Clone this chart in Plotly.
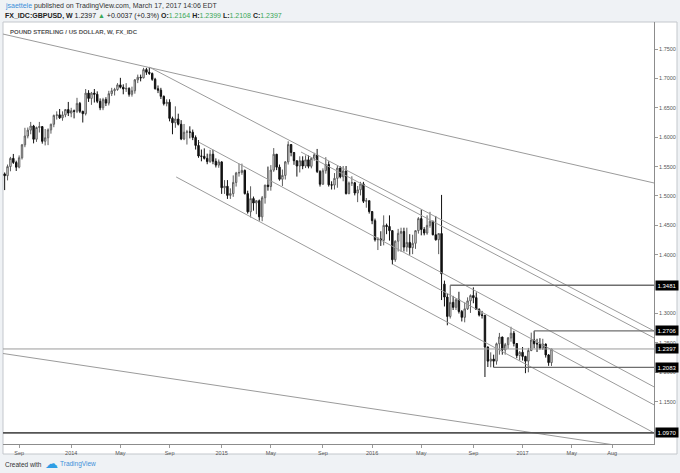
import plotly.graph_objects as go
import pandas as pd

# Weekly GBPUSD candles (open, high, low, close), weeks starting Monday 2013-07-29
ohlc_2013 = [
    (1.5375, 1.5400, 1.5100, 1.5345), (1.5345, 1.5535, 1.5265, 1.5500), (1.5500, 1.5665, 1.5420, 1.5640),
    (1.5640, 1.5715, 1.5545, 1.5570), (1.5570, 1.5600, 1.5425, 1.5490), (1.5490, 1.5690, 1.5470, 1.5650),
    (1.5650, 1.5885, 1.5620, 1.5870), (1.5870, 1.6160, 1.5830, 1.6020), (1.6020, 1.6165, 1.5980, 1.6120),
    (1.6120, 1.6260, 1.6050, 1.6190), (1.6190, 1.6210, 1.5895, 1.5965), (1.5965, 1.6180, 1.5920, 1.6165),
    (1.6165, 1.6260, 1.6080, 1.6180), (1.6180, 1.6190, 1.5890, 1.5930), (1.5930, 1.6140, 1.5860, 1.5990),
    (1.5990, 1.6150, 1.5865, 1.6125), (1.6125, 1.6230, 1.6060, 1.6220), (1.6220, 1.6385, 1.6170, 1.6370),
    (1.6370, 1.6440, 1.6300, 1.6380), (1.6380, 1.6480, 1.6310, 1.6330), (1.6330, 1.6440, 1.6280, 1.6380),
    (1.6380, 1.6480, 1.6340, 1.6470), (1.6470, 1.6600, 1.6360, 1.6410),
]
ohlc_2014 = [
    (1.6410, 1.6500, 1.6340, 1.6450), (1.6450, 1.6470, 1.6320, 1.6440), (1.6440, 1.6670, 1.6410, 1.6575),
    (1.6575, 1.6600, 1.6410, 1.6440), (1.6440, 1.6450, 1.6250, 1.6400), (1.6400, 1.6820, 1.6370, 1.6750),
    (1.6750, 1.6800, 1.6600, 1.6660), (1.6660, 1.6770, 1.6550, 1.6750), (1.6750, 1.6820, 1.6590, 1.6730),
    (1.6730, 1.6780, 1.6580, 1.6610), (1.6610, 1.6660, 1.6460, 1.6500), (1.6500, 1.6670, 1.6460, 1.6640),
    (1.6640, 1.6680, 1.6530, 1.6580), (1.6580, 1.6790, 1.6540, 1.6740), (1.6740, 1.6840, 1.6700, 1.6790),
    (1.6790, 1.6840, 1.6710, 1.6810), (1.6810, 1.6920, 1.6790, 1.6890), (1.6890, 1.7010, 1.6830, 1.6850),
    (1.6850, 1.6900, 1.6730, 1.6820), (1.6820, 1.6920, 1.6770, 1.6830), (1.6830, 1.6850, 1.6690, 1.6730),
    (1.6730, 1.6860, 1.6690, 1.6790), (1.6790, 1.6990, 1.6740, 1.6975), (1.6975, 1.7065, 1.6920, 1.7020),
    (1.7020, 1.7065, 1.6950, 1.7010), (1.7010, 1.7180, 1.7000, 1.7150), (1.7150, 1.7180, 1.7060, 1.7105),
    (1.7105, 1.7192, 1.7060, 1.7085), (1.7085, 1.7100, 1.6960, 1.6985), (1.6985, 1.7010, 1.6810, 1.6825),
    (1.6825, 1.6880, 1.6750, 1.6800), (1.6800, 1.6840, 1.6650, 1.6695), (1.6695, 1.6710, 1.6540, 1.6570),
    (1.6570, 1.6645, 1.6525, 1.6595), (1.6595, 1.6645, 1.6270, 1.6320), (1.6320, 1.6350, 1.6050, 1.6245),
    (1.6245, 1.6525, 1.6160, 1.6310), (1.6310, 1.6400, 1.6200, 1.6220), (1.6220, 1.6290, 1.5950, 1.5970),
    (1.5970, 1.6225, 1.5950, 1.6085), (1.6085, 1.6125, 1.5875, 1.6090), (1.6090, 1.6185, 1.5980, 1.6085),
    (1.6085, 1.6130, 1.5950, 1.5995), (1.5995, 1.6030, 1.5790, 1.5860), (1.5860, 1.5950, 1.5650, 1.5680),
    (1.5680, 1.5790, 1.5590, 1.5675), (1.5675, 1.5810, 1.5620, 1.5640), (1.5640, 1.5720, 1.5540, 1.5585),
    (1.5585, 1.5785, 1.5565, 1.5710), (1.5710, 1.5785, 1.5540, 1.5590), (1.5590, 1.5640, 1.5485, 1.5525),
    (1.5525, 1.5620, 1.5480, 1.5580),
]
ohlc_2015 = [
    (1.5580, 1.5590, 1.5035, 1.5140), (1.5140, 1.5270, 1.5035, 1.5165), (1.5165, 1.5270, 1.4950, 1.5010),
    (1.5010, 1.5130, 1.4950, 1.5040), (1.5040, 1.5350, 1.4985, 1.5230), (1.5230, 1.5410, 1.5160, 1.5390),
    (1.5390, 1.5550, 1.5330, 1.5400), (1.5400, 1.5550, 1.5360, 1.5435), (1.5435, 1.5450, 1.5025, 1.5040),
    (1.5040, 1.5090, 1.4700, 1.4730), (1.4730, 1.5165, 1.4635, 1.4955), (1.4955, 1.4990, 1.4750, 1.4880),
    (1.4880, 1.4925, 1.4690, 1.4920), (1.4920, 1.4940, 1.4580, 1.4645), (1.4645, 1.5000, 1.4570, 1.4970),
    (1.4970, 1.5190, 1.4870, 1.5185), (1.5185, 1.5500, 1.5090, 1.5160), (1.5160, 1.5525, 1.5090, 1.5440),
    (1.5440, 1.5815, 1.5410, 1.5710), (1.5710, 1.5715, 1.5440, 1.5490), (1.5490, 1.5535, 1.5260, 1.5285),
    (1.5285, 1.5450, 1.5170, 1.5350), (1.5350, 1.5595, 1.5280, 1.5580), (1.5580, 1.5930, 1.5535, 1.5875),
    (1.5875, 1.5880, 1.5675, 1.5740), (1.5740, 1.5745, 1.5530, 1.5600), (1.5600, 1.5600, 1.5330, 1.5510),
    (1.5510, 1.5675, 1.5400, 1.5600), (1.5600, 1.5675, 1.5455, 1.5510), (1.5510, 1.5690, 1.5475, 1.5615),
    (1.5615, 1.5690, 1.5470, 1.5505), (1.5505, 1.5660, 1.5470, 1.5640), (1.5640, 1.5735, 1.5600, 1.5700),
    (1.5700, 1.5800, 1.5390, 1.5415), (1.5415, 1.5440, 1.5160, 1.5200), (1.5200, 1.5470, 1.5190, 1.5430),
    (1.5430, 1.5660, 1.5380, 1.5535), (1.5535, 1.5590, 1.5160, 1.5190), (1.5190, 1.5250, 1.5110, 1.5185),
    (1.5185, 1.5390, 1.5110, 1.5300), (1.5300, 1.5510, 1.5140, 1.5475), (1.5475, 1.5510, 1.5300, 1.5325),
    (1.5325, 1.5510, 1.5250, 1.5425), (1.5425, 1.5510, 1.5025, 1.5040), (1.5040, 1.5245, 1.5030, 1.5220),
    (1.5220, 1.5335, 1.5170, 1.5225), (1.5225, 1.5240, 1.5010, 1.5050), (1.5050, 1.5170, 1.4895, 1.5105),
    (1.5105, 1.5240, 1.5010, 1.5205), (1.5205, 1.5240, 1.4880, 1.4910), (1.4910, 1.4965, 1.4800, 1.4920),
    (1.4920, 1.4920, 1.4700, 1.4735),
]
ohlc_2016 = [
    (1.4735, 1.4740, 1.4520, 1.4580), (1.4580, 1.4615, 1.4225, 1.4255), (1.4255, 1.4300, 1.4080, 1.4270),
    (1.4270, 1.4400, 1.4150, 1.4245), (1.4245, 1.4670, 1.4160, 1.4500), (1.4500, 1.4530, 1.4350, 1.4480),
    (1.4480, 1.4670, 1.4240, 1.4410), (1.4410, 1.4420, 1.3835, 1.3915), (1.3915, 1.4245, 1.3880, 1.4230),
    (1.4230, 1.4440, 1.4055, 1.4365), (1.4365, 1.4460, 1.4050, 1.4395), (1.4395, 1.4460, 1.4055, 1.4130),
    (1.4130, 1.4460, 1.4050, 1.4210), (1.4210, 1.4350, 1.4000, 1.4120), (1.4120, 1.4340, 1.4010, 1.4195),
    (1.4195, 1.4415, 1.4100, 1.4410), (1.4410, 1.4640, 1.4360, 1.4615), (1.4615, 1.4770, 1.4330, 1.4430),
    (1.4430, 1.4470, 1.4330, 1.4370), (1.4370, 1.4670, 1.4340, 1.4500), (1.4500, 1.4730, 1.4460, 1.4570),
    (1.4570, 1.4580, 1.4330, 1.4340), (1.4340, 1.4660, 1.4240, 1.4255), (1.4255, 1.4370, 1.4010, 1.4360),
    (1.4360, 1.5018, 1.3229, 1.3675), (1.3500, 1.3560, 1.3120, 1.3280), (1.3280, 1.3340, 1.2800, 1.2950),
    (1.2950, 1.3481, 1.2915, 1.3190), (1.3190, 1.3300, 1.3060, 1.3105), (1.3105, 1.3260, 1.3060, 1.3235),
    (1.3235, 1.3370, 1.3000, 1.3035), (1.3035, 1.3060, 1.2865, 1.2935), (1.2935, 1.3190, 1.2850, 1.3080),
    (1.3080, 1.3275, 1.3060, 1.3215), (1.3215, 1.3325, 1.3010, 1.3305), (1.3305, 1.3445, 1.3175, 1.3270),
    (1.3270, 1.3360, 1.3060, 1.3070), (1.3070, 1.3090, 1.2950, 1.2975), (1.2975, 1.3045, 1.2915, 1.2970),
    (1.2970, 1.2975, 1.1920, 1.2430), (1.2430, 1.2440, 1.2090, 1.2190), (1.2190, 1.2340, 1.2085, 1.2225),
    (1.2225, 1.2300, 1.2083, 1.2190), (1.2190, 1.2505, 1.2130, 1.2485), (1.2485, 1.2670, 1.2300, 1.2600),
    (1.2600, 1.2605, 1.2300, 1.2380), (1.2380, 1.2500, 1.2300, 1.2470), (1.2470, 1.2600, 1.2400, 1.2585),
    (1.2585, 1.2775, 1.2520, 1.2665), (1.2665, 1.2705, 1.2440, 1.2490), (1.2490, 1.2495, 1.2240, 1.2285),
    (1.2285, 1.2360, 1.2200, 1.2340),
]
ohlc_2017 = [
    (1.2340, 1.2430, 1.2200, 1.2270), (1.2270, 1.2280, 1.1985, 1.2190), (1.2190, 1.2415, 1.2000, 1.2370),
    (1.2370, 1.2675, 1.2360, 1.2550), (1.2550, 1.2706, 1.2410, 1.2485), (1.2485, 1.2570, 1.2345, 1.2485),
    (1.2485, 1.2580, 1.2385, 1.2410), (1.2410, 1.2570, 1.2380, 1.2480), (1.2480, 1.2490, 1.2250, 1.2295),
    (1.2295, 1.2310, 1.2110, 1.2165), (1.2164, 1.2399, 1.2108, 1.2397),
]

# Drawn trend lines: (start date, start price, end date, end price)
trend_lines = [
    ("2013-07-25", 1.7755, "2017-11-16", 1.5221),
    ("2014-07-14", 1.7192, "2017-11-16", 1.2704),
    ("2015-07-16", 1.5748, "2017-11-16", 1.2585),
    ("2014-11-10", 1.5918, "2017-11-16", 1.1752),
    ("2014-09-17", 1.5323, "2017-11-16", 1.0970),
    ("2016-02-24", 1.3835, "2017-11-16", 1.1446),
    ("2013-07-25", 1.2320, "2017-11-16", 1.0663),
]
# Horizontal levels: price, start date
level_prices = [1.3481, 1.2706, 1.2397, 1.2083, 1.0970]
level_starts = ["2016-07-11", "2017-01-30", "2013-07-25", "2016-10-24", "2013-07-25"]
level_colors = ["#6e6e6e", "#6e6e6e", "#9a9a9a", "#6e6e6e", "#555555"]
level_widths = [1.3, 1.3, 1, 1.3, 1.6]

price_ticks = [1.15, 1.20, 1.25, 1.30, 1.40, 1.45, 1.50, 1.55, 1.60, 1.65, 1.70, 1.75]
time_ticks = ["2013-09-02", "2014-01-06", "2014-05-05", "2014-09-01", "2015-01-05", "2015-05-04",
              "2015-09-07", "2016-01-04", "2016-05-02", "2016-09-05", "2017-01-02", "2017-05-01",
              "2017-08-07"]
time_labels = ["Sep", "2014", "May", "Sep", "2015", "May", "Sep", "2016", "May", "Sep", "2017", "May", "Aug"]

rows = ohlc_2013 + ohlc_2014 + ohlc_2015 + ohlc_2016 + ohlc_2017
week_dates = pd.date_range("2013-07-29", periods=len(rows), freq="W-MON")

FONT = "Liberation Sans, Arial, sans-serif"
X_RANGE = ["2013-07-25", "2017-11-16"]

fig = go.Figure(go.Candlestick(
    x=week_dates,
    open=[r[0] for r in rows], high=[r[1] for r in rows],
    low=[r[2] for r in rows], close=[r[3] for r in rows],
    increasing=dict(line=dict(color="#5c5c5c", width=1), fillcolor="#ffffff"),
    decreasing=dict(line=dict(color="#111111", width=1), fillcolor="#111111"),
    whiskerwidth=0, hoverinfo="skip", showlegend=False,
))

shapes = []
# white chart box including axis areas
shapes.append(dict(type="rect", xref="paper", yref="paper", x0=0, x1=674 / 651, y0=-10 / 422, y1=1,
                   fillcolor="white", line=dict(color="#c3c7cc", width=1), layer="below"))
for (d0, p0, d1, p1) in trend_lines:
    shapes.append(dict(type="line", xref="x", yref="y", x0=d0, y0=p0, x1=d1, y1=p1,
                       line=dict(color="#9b9b9b", width=1)))
for p, s, c, w in zip(level_prices, level_starts, level_colors, level_widths):
    shapes.append(dict(type="line", xref="x", yref="y", x0=s, y0=p, x1=X_RANGE[1], y1=p,
                       line=dict(color=c, width=w)))

annotations = []
for p in level_prices:
    annotations.append(dict(xref="paper", yref="y", x=1.0015, y=p, xanchor="left", yanchor="middle",
                            text=f"{p:.4f}", showarrow=False, bgcolor="#000000", borderpad=1.5,
                            font=dict(family=FONT, size=6, color="white")))

green = "#3aa757"
annotations += [
    dict(xref="paper", yref="paper", x=0, y=(444 - 6) / 422, xanchor="left", yanchor="middle", showarrow=False,
         text="<span style='color:#3d8fd9'>jsaettele</span> published on TradingView.com, March 17, 2017 14:06 EDT",
         font=dict(family=FONT, size=7, color="#333333")),
    dict(xref="paper", yref="paper", x=0, y=(444 - 16) / 422, xanchor="left", yanchor="middle", showarrow=False,
         text=(f"<b>FX_IDC:GBPUSD, W</b> 1.2397 <span style='color:{green}'>▲</span> +0.0037 (+0.3%) "
               f"<b>O:</b><span style='color:{green}'>1.2164</span> <b>H:</b><span style='color:{green}'>1.2399</span> "
               f"<b>L:</b><span style='color:{green}'>1.2108</span> <b>C:</b><span style='color:{green}'>1.2397</span>"),
         font=dict(family=FONT, size=7, color="#222222")),
    dict(xref="paper", yref="paper", x=5 / 651, y=(444 - 32) / 422, xanchor="left", yanchor="middle", showarrow=False,
         text="<b>POUND STERLING / US DOLLAR, W, FX_IDC</b>",
         font=dict(family=FONT, size=6, color="#555555")),
    dict(xref="paper", yref="paper", x=0, y=(444 - 464) / 422, xanchor="left", yanchor="middle", showarrow=False,
         text="Created with", font=dict(family=FONT, size=6.5, color="#333333")),
    dict(xref="paper", yref="paper", x=40 / 651, y=(444 - 463) / 422, xanchor="left", yanchor="middle", showarrow=False,
         text="☁", font=dict(family="DejaVu Sans", size=13, color="#2f9de4")),
    dict(xref="paper", yref="paper", x=55 / 651, y=(444 - 464) / 422, xanchor="left", yanchor="middle", showarrow=False,
         text="TradingView", font=dict(family=FONT, size=6.5, color="#3d8fd9")),
]

fig.update_layout(
    width=680, height=473,
    margin=dict(l=3, r=26, t=22, b=29),
    paper_bgcolor="#eff2f5", plot_bgcolor="white",
    shapes=shapes, annotations=annotations,
    font=dict(family=FONT, size=5.5, color="#555555"),
    xaxis=dict(range=X_RANGE, rangeslider=dict(visible=False), showgrid=False, zeroline=False,
               showline=True, linecolor="#8c8c8c", linewidth=1, ticks="outside", ticklen=3,
               tickcolor="#9a9a9a", tickvals=time_ticks, ticktext=time_labels,
               tickfont=dict(family=FONT, size=5.5, color="#555555")),
    yaxis=dict(range=[1.078, 1.796], side="right", showgrid=False, zeroline=False,
               showline=True, linecolor="#8c8c8c", linewidth=1, ticks="outside", ticklen=3,
               tickcolor="#9a9a9a", tickvals=price_ticks, ticktext=[f"{v:.4f}" for v in price_ticks],
               tickfont=dict(family=FONT, size=5.5, color="#555555")),
)

fig.write_html("out.html")
